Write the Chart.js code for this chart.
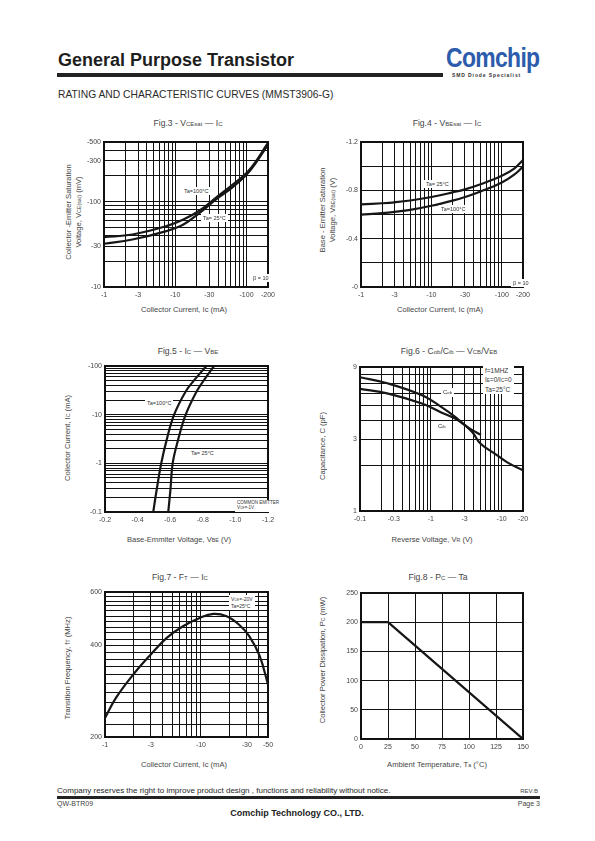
<!DOCTYPE html>
<html>
<head>
<meta charset="utf-8">
<title>MMST3906-G rating and characteristic curves</title>
<script src="https://cdn.jsdelivr.net/npm/chart.js@4/dist/chart.umd.min.js"></script>
<style>
  body { margin: 0; width: 595px; height: 841px; position: relative; overflow: hidden; background: #fff;
         font-family: "Liberation Sans", Arial, sans-serif; color: #222; }
  canvas { position: absolute; }
  .t { position: absolute; white-space: nowrap; line-height: 1; }
  .s { font-size: 70%; }
  .fig { position: absolute; font-size: 8.6px; white-space: nowrap; line-height: 1; transform: translate(-50%, -50%); color: #454545; }
  .ax { position: absolute; font-size: 7.6px; white-space: nowrap; line-height: 1; transform: translate(-50%, -50%); color: #454545; }
  .yt { position: absolute; font-size: 7.6px; white-space: nowrap; line-height: 1.3; text-align: center;
        transform: translate(-50%, -50%) rotate(-90deg); color: #454545; }
  .note { position: absolute; background: #fff; font-size: 5.5px; line-height: 1.1; white-space: nowrap; padding: 1px 2px; color: #333; }
</style>
</head>
<body>

<div class="t" style="left:58px;top:51px;font-size:18px;font-weight:bold;color:#1e1e1e">General Purpose Transistor</div>
<div style="position:absolute;left:57px;top:73px;width:386px;height:4px;background:#222"></div>
<div class="t" style="left:446px;top:45px;font-weight:bold;font-size:27px;color:#2c5cab;letter-spacing:-0.8px;transform:scaleX(0.85);transform-origin:0 0">Comchip</div>
<div class="t" style="left:452px;top:73px;font-size:5px;font-weight:bold;color:#333;letter-spacing:0.9px">SMD Diode Specialist</div>
<div class="t" style="left:58px;top:90px;font-size:10.3px;color:#2a2a2a">RATING AND CHARACTERISTIC CURVES (MMST3906-G)</div>

<!-- titles -->
<div class="fig" style="left:188px;top:123px">Fig.3 - V<span class="s">CEsat</span> — I<span class="s">C</span></div>
<div class="fig" style="left:447px;top:123px">Fig.4 - V<span class="s">BEsat</span> — I<span class="s">C</span></div>
<div class="fig" style="left:188px;top:351px">Fig.5 - I<span class="s">C</span> — V<span class="s">BE</span></div>
<div class="fig" style="left:449px;top:351px">Fig.6 - C<span class="s">ob</span>/C<span class="s">ib</span> — V<span class="s">CB</span>/V<span class="s">EB</span></div>
<div class="fig" style="left:180px;top:577px">Fig.7 - F<span class="s">T</span> — I<span class="s">C</span></div>
<div class="fig" style="left:438px;top:577px">Fig.8 - P<span class="s">C</span> — Ta</div>

<!-- axis titles -->
<div class="ax" style="left:184px;top:310px">Collector Current, Ic (mA)</div>
<div class="ax" style="left:440px;top:310px">Collector Current, Ic (mA)</div>
<div class="ax" style="left:179px;top:540px">Base-Emmiter Voltage, V<span class="s">BE</span> (V)</div>
<div class="ax" style="left:432px;top:540px">Reverse Voltage, V<span class="s">R</span> (V)</div>
<div class="ax" style="left:184px;top:765px">Collector Current, Ic (mA)</div>
<div class="ax" style="left:437px;top:765px">Ambient Temperature, T<span class="s">a</span> (°C)</div>

<div class="yt" style="left:74px;top:212px">Collector -Emitter Saturation<br>Voltage, V<span class="s">CE(sat)</span> (mV)</div>
<div class="yt" style="left:328px;top:210px">Base - Emitter Saturation<br>Voltage, V<span class="s">BE(sat)</span> (V)</div>
<div class="yt" style="left:68px;top:438px">Collector Current, I<span class="s">C</span> (mA)</div>
<div class="yt" style="left:323px;top:446px">Capacitance, C (pF)</div>
<div class="yt" style="left:68px;top:668px">Transition Frequency, f<span class="s">T</span> (MHz)</div>
<div class="yt" style="left:323px;top:660px">Collector Power Dissipation, P<span class="s">C</span> (mW)</div>

<canvas id="c3"></canvas>
<canvas id="c4"></canvas>
<canvas id="c5"></canvas>
<canvas id="c6"></canvas>
<canvas id="c7"></canvas>
<canvas id="c8"></canvas>

<!-- in-plot notes -->
<div class="note" style="left:182px;top:187px">Ta=100°C</div>
<div class="note" style="left:201px;top:214px">Ta= 25°C</div>
<div class="note" style="left:251px;top:274px">β = 10</div>

<div class="note" style="left:424px;top:180px">Ta= 25°C</div>
<div class="note" style="left:439px;top:205px">Ta=100°C</div>
<div class="note" style="left:511px;top:279px">β = 10</div>

<div class="note" style="left:145px;top:399px">Ta=100°C</div>
<div class="note" style="left:189px;top:449px">Ta= 25°C</div>
<div class="note" style="left:235px;top:500px;font-size:4.5px">COMMON EMITTER<br>V<span class="s">CE</span>=-1V</div>

<div class="note" style="left:483px;top:366px;font-size:6.5px;line-height:1.45;padding:0 2px">f=1MHZ<br>I<span class="s">E</span>=0/I<span class="s">C</span>=0<br>Ta=25°C</div>
<div class="note" style="left:441px;top:388px;font-size:6px">C<span class="s">ob</span></div>
<div class="note" style="left:436px;top:422px;font-size:6px;background:none">C<span class="s">ib</span></div>

<div class="note" style="left:229px;top:595px;font-size:5px;line-height:1.3">V<span class="s">CE</span>=-20V<br>Ta=25°C</div>

<!-- footer -->
<div class="t" style="left:57px;top:787px;font-size:8px;color:#2a2a2a">Company reserves the right to improve product design , functions and reliability without notice.</div>
<div class="t" style="right:57px;top:788px;font-size:6px;color:#444">REV:B</div>
<div style="position:absolute;left:57px;top:796px;width:483px;height:3px;background:#222"></div>
<div class="t" style="left:57px;top:800px;font-size:7px;color:#444">QW-BTR09</div>
<div class="t" style="right:55px;top:800px;font-size:7px;color:#444">Page 3</div>
<div class="t" style="left:297px;top:809px;font-size:9px;font-weight:bold;transform:translateX(-50%)">Comchip Technology CO., LTD.</div>

<script>
// currents / voltages stored as magnitudes; the axes print the minus sign like the datasheet

// Fig.3  VCE(sat) (mV) vs Ic (mA)
const fig3Ic      = [1, 2.5, 7.5, 13, 22, 37, 64, 110, 200];
const fig3Vce100  = [38.4, 41.2, 51.7, 61.8, 78.7, 110.8, 158, 237, 487];
const fig3Vce25   = [32.1, 36.0, 45.2, 54.0, 74.0, 105.8, 148, 227, 465];
const fig3XLabels = [1, 3, 10, 30, 100, 200];
const fig3YLabels = [10, 30, 100, 300, 500];

// Fig.4  VBE(sat) (V) vs Ic (mA)
const fig4Ic      = [1, 2, 3, 5, 10, 20, 30, 50, 100, 150, 200];
const fig4Vbe25   = [0.683, 0.693, 0.701, 0.716, 0.745, 0.783, 0.808, 0.85, 0.92, 0.98, 1.05];
const fig4Vbe100  = [0.599, 0.612, 0.622, 0.638, 0.672, 0.715, 0.745, 0.79, 0.865, 0.93, 0.996];
const fig4XLabels = [1, 3, 10, 30, 100, 200];
const fig4YLabels = [0, 0.4, 0.8, 1.2];

// Fig.5  Ic (mA) vs VBE (V)
const fig5Ic      = [0.1, 0.3, 1, 3, 10, 30, 50, 100];
const fig5Vbe100  = [0.496, 0.518, 0.545, 0.578, 0.624, 0.695, 0.745, 0.822];
const fig5Vbe25   = [0.588, 0.602, 0.615, 0.648, 0.695, 0.762, 0.805, 0.869];
const fig5XLabels = [0.2, 0.4, 0.6, 0.8, 1.0, 1.2];
const fig5YLabels = [0.1, 1, 10, 100];

// Fig.6  capacitance (pF) vs reverse voltage (V)
const fig6VrCob   = [0.1, 0.25, 0.75, 1.4, 2.2, 3.8, 5, 8, 12, 20];
const fig6Cob     = [7.7, 7.0, 5.85, 4.9, 4.2, 3.35, 2.8, 2.4, 2.1, 1.86];
const fig6VrCib   = [0.1, 0.25, 0.75, 1.4, 2.2, 3.6, 5.1];
const fig6Cib     = [6.45, 6.0, 5.15, 4.5, 4.1, 3.5, 3.2];
const fig6XLabels = [0.1, 0.3, 1, 3, 10, 20];
const fig6YLabels = [1, 3, 9];

// Fig.7  fT (MHz) vs Ic (mA)
const fig7Ic      = [1, 1.3, 2, 3, 4.4, 6.5, 9.7, 13.5, 18.5, 25, 32, 41, 50];
const fig7Ft      = [231, 269, 323, 374, 424, 463, 493, 508, 499, 468, 429, 369, 298];
const fig7XLabels = [1, 3, 10, 30, 50];
const fig7YLabels = [200, 400, 600];

// Fig.8  Pc (mW) vs Ta (°C)
const fig8Ta      = [0, 25, 150];
const fig8Pc      = [200, 200, 0];
const fig8XLabels = [0, 25, 50, 75, 100, 125, 150];
const fig8YLabels = [0, 50, 100, 150, 200, 250];

// grid helpers (gridline positions only)
function logGrid(min, max) {
  const out = [];
  for (let e = Math.floor(Math.log10(min)); e <= Math.ceil(Math.log10(max)); e++) {
    for (let m = 1; m <= 9; m++) {
      const v = +(m * Math.pow(10, e)).toPrecision(6);
      if (v >= min * (1 - 1e-9) && v <= max * (1 + 1e-9)) out.push(v);
    }
  }
  return out;
}
function stepGrid(min, max, step) {
  const out = [];
  for (let v = min; v <= max + step / 1000; v += step) out.push(+v.toPrecision(6));
  return out;
}

const pts = (xs, ys) => xs.map((x, i) => ({ x: x, y: ys[i] }));
const neg = v => '-' + v;

const frame = {
  id: 'frame',
  afterDatasetsDraw(chart) {
    const { ctx, chartArea: a } = chart;
    ctx.save();
    ctx.strokeStyle = '#111';
    ctx.lineWidth = 2;
    ctx.strokeRect(a.left, a.top, a.right - a.left, a.bottom - a.top);
    ctx.restore();
  }
};

function axis(type, min, max, grid, labels, fmt, showGrid) {
  return {
    type: type, min: min, max: max,
    afterBuildTicks: s => { s.ticks = grid.map(v => ({ value: v })); },
    ticks: {
      autoSkip: false, maxRotation: 0, minRotation: 0, padding: 4,
      color: '#444', font: { family: 'Liberation Sans', size: 7 },
      callback: v => labels.some(l => Math.abs(l - v) <= Math.abs(l) * 1e-6 + 1e-9) ? fmt(v) : ''
    },
    grid: { display: showGrid !== false, color: '#111', lineWidth: 1, drawTicks: false },
    border: { display: false }
  };
}

function line(data, straight) {
  return {
    data: data, borderColor: '#161616', borderWidth: 2.2, pointRadius: 0, fill: false,
    tension: straight ? 0 : 0.4
  };
}

// box = [left, right, top, bottom] of the plot area on the page
function make(id, box, x, y, datasets) {
  const YW = 34, XH = 22, PT = 8, PR = 22;
  const cv = document.getElementById(id);
  const w = box[1] - box[0], h = box[3] - box[2];
  cv.width = YW + w + PR;
  cv.height = PT + h + XH;
  cv.style.left = (box[0] - YW) + 'px';
  cv.style.top = (box[2] - PT) + 'px';
  x.afterFit = s => { s.height = XH; };
  y.afterFit = s => { s.width = YW; };
  y.ticks.padding = 3;
  new Chart(cv, {
    type: 'line',
    data: { datasets: datasets },
    options: {
      responsive: false, animation: false,
      layout: { padding: { top: PT, right: PR, left: 0, bottom: 0 } },
      plugins: { legend: { display: false }, tooltip: { enabled: false } },
      scales: { x: x, y: y }
    },
    plugins: [frame]
  });
}

make('c3', [104, 268, 142, 287],
  axis('logarithmic', 1, 200, logGrid(1, 200), fig3XLabels, neg),
  axis('logarithmic', 10, 500, logGrid(10, 500), fig3YLabels, neg),
  [line(pts(fig3Ic, fig3Vce100)), line(pts(fig3Ic, fig3Vce25))]);

make('c4', [361, 523, 142, 287],
  axis('logarithmic', 1, 200, logGrid(1, 200), fig4XLabels, neg),
  axis('linear', 0, 1.2, stepGrid(0, 1.2, 0.2), fig4YLabels, neg),
  [line(pts(fig4Ic, fig4Vbe25)), line(pts(fig4Ic, fig4Vbe100))]);

make('c5', [105, 268, 366, 512],
  axis('linear', 0.2, 1.2, stepGrid(0.2, 1.2, 0.2), fig5XLabels, v => '-' + v.toFixed(1), false),
  axis('logarithmic', 0.1, 100, logGrid(0.1, 100), fig5YLabels, neg),
  [line(pts(fig5Vbe100, fig5Ic)), line(pts(fig5Vbe25, fig5Ic))]);

make('c6', [360, 523, 367, 511],
  axis('logarithmic', 0.1, 20, logGrid(0.1, 20), fig6XLabels, neg),
  axis('logarithmic', 1, 9, logGrid(1, 9), fig6YLabels, v => '' + v),
  [line(pts(fig6VrCob, fig6Cob)), line(pts(fig6VrCib, fig6Cib))]);

make('c7', [105, 268, 592, 737],
  axis('logarithmic', 1, 50, logGrid(1, 50), fig7XLabels, neg),
  axis('logarithmic', 200, 600, stepGrid(200, 600, 20), fig7YLabels, v => '' + v),
  [line(pts(fig7Ic, fig7Ft))]);

make('c8', [361, 523, 593, 739],
  axis('linear', 0, 150, fig8XLabels, fig8XLabels, v => '' + v),
  axis('linear', 0, 250, fig8YLabels, fig8YLabels, v => '' + v),
  [line(pts(fig8Ta, fig8Pc), true)]);
</script>
</body>
</html>
